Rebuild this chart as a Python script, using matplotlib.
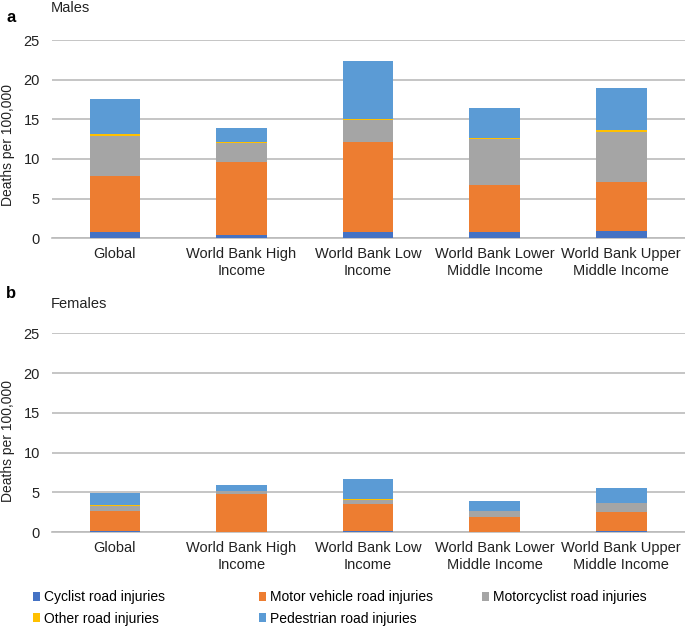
import matplotlib
matplotlib.use("Agg")
import matplotlib.pyplot as plt
from matplotlib.patches import Patch
import numpy as np

plt.rcParams['font.family'] = ['Liberation Sans', 'DejaVu Sans']

# categories and series (deaths per 100,000)
regions = ["Global", "World Bank High\nIncome", "World Bank Low\nIncome",
           "World Bank Lower\nMiddle Income", "World Bank Upper\nMiddle Income"]
series_names = ["Cyclist road injuries", "Motor vehicle road injuries",
                "Motorcyclist road injuries", "Other road injuries",
                "Pedestrian road injuries"]

male_cyclist = [0.75, 0.45, 0.75, 0.85, 0.90]
male_motor = [7.05, 9.15, 11.40, 5.85, 6.20]
male_moto = [5.10, 2.40, 2.75, 5.85, 6.25]
male_other = [0.25, 0.20, 0.20, 0.15, 0.30]
male_ped = [4.35, 1.70, 7.25, 3.70, 5.25]

female_cyclist = [0.15, 0.05, 0.15, 0.05, 0.17]
female_motor = [2.50, 4.80, 3.45, 1.87, 2.38]
female_moto = [0.65, 0.35, 0.50, 0.72, 1.10]
female_other = [0.10, 0.03, 0.08, 0.08, 0.07]
female_ped = [1.55, 0.70, 2.48, 1.21, 1.85]

colors = ["#4472C4", "#ED7D31", "#A5A5A5", "#FFC000", "#5B9BD5"]

W, H = 685, 627
fig = plt.figure(figsize=(W / 100, H / 100), dpi=100)
FS = 10.5
TXT = "#222222"


def px_axes(left, top, right, bottom):
    # make axes from pixel box (origin top-left)
    return fig.add_axes([left / W, 1 - bottom / H, (right - left) / W, (bottom - top) / H])


def draw_panel(ax, data):
    x = np.arange(len(regions))
    base = np.zeros(len(regions))
    for vals, col in zip(data, colors):
        ax.bar(x, vals, width=0.4, bottom=base, color=col, zorder=3)
        base = base + np.array(vals)
    ax.set_xlim(-0.5, 4.5)
    ax.set_ylim(0, 25)
    ax.set_yticks([0, 5, 10, 15, 20, 25])
    ax.set_xticks(x)
    ax.set_xticklabels(regions, fontsize=FS, color=TXT)
    ax.tick_params(axis="both", length=0, colors=TXT, labelsize=FS)
    ax.tick_params(axis="x", pad=6.5)
    ax.tick_params(axis="y", pad=8.5)
    ax.grid(axis="y", color="#BBBBBB", linewidth=1.2, zorder=0)
    for s in ["top", "right", "left"]:
        ax.spines[s].set_visible(False)
    ax.spines["bottom"].set_color("#BBBBBB")
    ax.spines["bottom"].set_linewidth(1.2)


ax1 = px_axes(51.6, 40, 684.5, 238.3)
draw_panel(ax1, [male_cyclist, male_motor, male_moto, male_other, male_ped])
ax2 = px_axes(51.6, 333.3, 684.5, 532.3)
draw_panel(ax2, [female_cyclist, female_motor, female_moto, female_other, female_ped])

fig.text(8 / W, 1 - 145 / H, "Deaths per 100,000", rotation=90, fontsize=10,
         ha="center", va="center", color=TXT)
fig.text(8 / W, 1 - 441 / H, "Deaths per 100,000", rotation=90, fontsize=10,
         ha="center", va="center", color=TXT)

fig.text(6 / W, 1 - 18 / H, "a", fontsize=12, fontweight="bold", va="center")
fig.text(51 / W, 1 - 8 / H, "Males", fontsize=FS, va="center", color=TXT)
fig.text(6 / W, 1 - 294 / H, "b", fontsize=12, fontweight="bold", va="center")
fig.text(51 / W, 1 - 304 / H, "Females", fontsize=FS, va="center", color=TXT)

# legend in three fixed columns like the original
handles = [Patch(facecolor=c) for c in colors]
columns = [([0, 3], 33), ([1, 4], 259), ([2], 482)]
for idx, xpx in columns:
    fig.legend([handles[i] for i in idx], [series_names[i] for i in idx],
               loc="upper left", bbox_to_anchor=(xpx / W, 1 - 590 / H),
               frameon=False, fontsize=10, handlelength=0.5, handleheight=0.6,
               handletextpad=0.3, labelspacing=0.55, borderpad=0, borderaxespad=0)

fig.savefig("out.png", dpi=100)
